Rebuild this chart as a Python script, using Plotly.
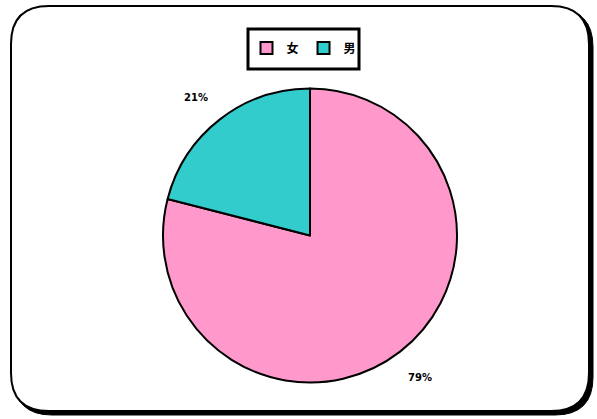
import plotly.graph_objects as go

# Data
categories = ["女", "男"]
values = [79, 21]
colors = ["#FF99CC", "#33CCCC"]

W, H = 597, 419

def fx(x):
    return x / W

def fy(y):
    return 1 - y / H

def rounded_path(x0, y0, x1, y1, r):
    pts = [
        f"M {fx(x0 + r)},{fy(y0)}",
        f"L {fx(x1 - r)},{fy(y0)}",
        f"Q {fx(x1)},{fy(y0)} {fx(x1)},{fy(y0 + r)}",
        f"L {fx(x1)},{fy(y1 - r)}",
        f"Q {fx(x1)},{fy(y1)} {fx(x1 - r)},{fy(y1)}",
        f"L {fx(x0 + r)},{fy(y1)}",
        f"Q {fx(x0)},{fy(y1)} {fx(x0)},{fy(y1 - r)}",
        f"L {fx(x0)},{fy(y0 + r)}",
        f"Q {fx(x0)},{fy(y0)} {fx(x0 + r)},{fy(y0)}",
        "Z",
    ]
    return " ".join(pts)

total = sum(values)
pct = [f"{round(v * 100 / total)}%" for v in values]

fig = go.Figure()
fig.add_trace(go.Pie(
    labels=categories,
    values=values,
    sort=False,
    direction="clockwise",
    rotation=0,
    marker=dict(colors=colors, line=dict(color="#000000", width=2)),
    textinfo="none",
    hoverinfo="label+percent",
    domain=dict(x=[fx(163), fx(457)], y=[fy(383), fy(88)]),
))

shapes = [
    dict(type="path", xref="paper", yref="paper", layer="below",
         path=rounded_path(14, 9, 593, 415, 38),
         fillcolor="#000000", line=dict(color="#000000", width=1)),
    dict(type="path", xref="paper", yref="paper", layer="below",
         path=rounded_path(11, 6, 589, 411, 38),
         fillcolor="#FFFFFF", line=dict(color="#000000", width=2)),
    # legend frame
    dict(type="rect", xref="paper", yref="paper", layer="above",
         x0=fx(248), x1=fx(359), y0=fy(69), y1=fy(29),
         fillcolor="rgba(0,0,0,0)", line=dict(color="#000000", width=3)),
]

annotations = [
    dict(x=fx(196), y=fy(98), xref="paper", yref="paper", text=f"<b>{pct[1]}</b>",
         xanchor="center", yanchor="middle",
         showarrow=False, font=dict(size=10, color="#000000", family="DejaVu Sans")),
    dict(x=fx(420), y=fy(377), xref="paper", yref="paper", text=f"<b>{pct[0]}</b>",
         xanchor="center", yanchor="middle",
         showarrow=False, font=dict(size=10, color="#000000", family="DejaVu Sans")),
]

fig.update_layout(
    width=W, height=H,
    margin=dict(l=0, r=0, t=0, b=0),
    paper_bgcolor="#FFFFFF",
    plot_bgcolor="#FFFFFF",
    shapes=shapes,
    annotations=annotations,
    showlegend=True,
    legend=dict(
        orientation="h",
        x=fx(304), xanchor="center",
        y=fy(48), yanchor="middle",
        borderwidth=0,
        bgcolor="rgba(0,0,0,0)",
        font=dict(size=12, color="#000000", family="Noto Sans CJK SC", weight="bold"),
        traceorder="normal",
        itemwidth=30,
    ),
)

fig.write_html("out.html", config={"displayModeBar": False},
               post_script="document.body.style.margin='0';document.body.style.overflow='hidden';")
